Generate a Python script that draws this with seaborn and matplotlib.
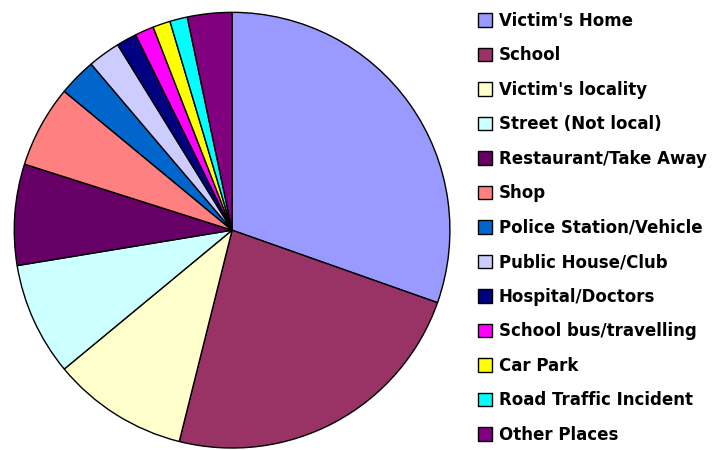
import matplotlib
matplotlib.use("Agg")
import matplotlib.pyplot as plt
import seaborn as sns

# where the incidents happened (share of all, %)
places = ["Victim's Home", "School", "Victim's locality", "Street (Not local)",
          "Restaurant/Take Away", "Shop", "Police Station/Vehicle",
          "Public House/Club", "Hospital/Doctors", "School bus/travelling",
          "Car Park", "Road Traffic Incident", "Other Places"]
share = [30.4, 23.5, 10.1, 8.4, 7.5, 6.1, 2.8, 2.4, 1.5, 1.4, 1.3, 1.3, 3.3]
colours = ["#9999FF", "#993366", "#FFFFCC", "#CCFFFF", "#660066", "#FF8080",
           "#0066CC", "#CCCCFF", "#000080", "#FF00FF", "#FFFF00", "#00FFFF",
           "#800080"]

sns.set_style("white")
plt.rcParams["font.family"] = ["DejaVu Sans"]
plt.rcParams["text.color"] = "black"
pal = sns.color_palette(colours)

fig = plt.figure(figsize=(7.23, 4.5), dpi=100)
ax = fig.add_axes([0.018, 0.002, 0.606, 0.973])
wedges, _ = ax.pie(share, colors=pal, startangle=90, counterclock=False,
                   wedgeprops={"edgecolor": "black", "linewidth": 1})
ax.set_xlim(-1.005, 1.005)
ax.set_ylim(-1.005, 1.005)
ax.set_aspect("equal")

fig.legend(wedges, places, loc="upper left", bbox_to_anchor=(0.661, 0.974),
           frameon=False, prop={"weight": "bold", "size": 12},
           handlelength=0.85, handleheight=0.85, handletextpad=0.4,
           labelspacing=0.99, borderaxespad=0, borderpad=0)

fig.savefig("out.png", dpi=100)
